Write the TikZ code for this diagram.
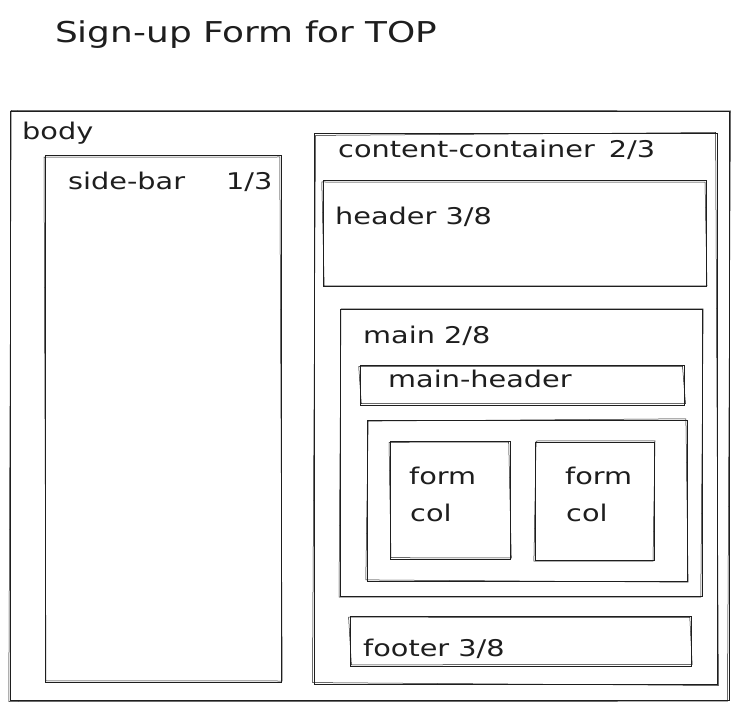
\documentclass[tikz,border=0pt]{standalone}
\usepackage{fontspec}
\newfontfamily\hand{DejaVu Sans}[FakeStretch=1.25]
\definecolor{ink}{HTML}{1E1E1E}
\begin{document}
\begin{tikzpicture}[x=1pt,y=-1pt,
  box/.style={draw=ink, line width=1pt, rectangle, inner sep=0pt, outer sep=0pt},
  trace/.style={draw=ink, line width=0.5pt},
  lbl/.style={anchor=base west, inner sep=0pt, text=ink, font=\hand\fontsize{23}{25}\selectfont},
  ttl/.style={anchor=base west, inner sep=0pt, text=ink, font=\hand\fontsize{28.7}{32}\selectfont}]
\useasboundingbox[fill=white] (0,0) rectangle (739,711);

% page title
\node[ttl] (title) at (55,43) {Sign-up Form for TOP};

% layout boxes
\node[box, minimum width=719pt, minimum height=588pt] (body)    at (369.5,406) {};
\node[box, minimum width=236pt, minimum height=526pt] (sidebar) at (163,419) {};
\node[box, minimum width=403pt, minimum height=550pt] (content) at (515.5,409) {};
\node[box, minimum width=383pt, minimum height=106pt] (header)  at (514.5,234) {};
\node[box, minimum width=362pt, minimum height=286pt] (main)    at (521,453) {};
\node[box, minimum width=324pt, minimum height=40pt]  (mainhd)  at (522,385) {};
\node[box, minimum width=320pt, minimum height=161pt] (formrow) at (527,500.5) {};
\node[box, minimum width=120pt, minimum height=118pt] (colA)    at (450,500) {};
\node[box, minimum width=119pt, minimum height=118pt] (colB)    at (594.5,501) {};
\node[box, minimum width=341pt, minimum height=50pt]  (footer)  at (520.5,641) {};

% second, slightly offset pen strokes for a hand-drawn look
\foreach \n/\a/\b in {body/1.2/-1.5, sidebar/-1/1.2, content/1.5/1.4, header/-1.2/1,
                      main/1/-1.2, mainhd/-1.3/1.5, formrow/1.2/1.1, colA/-1/1.3,
                      colB/1.1/-1, footer/-1.4/1.2}{
  \draw[trace] ([shift={(\a,\b)}]\n.north west) -- ([shift={(-\b,-\a)}]\n.north east)
               -- ([shift={(\b,\a)}]\n.south east) -- ([shift={(-\a,-\b)}]\n.south west) -- cycle;
}

% labels
\node[lbl] (tbody)    at (22,140)  {body};
\node[lbl] (tside)    at (68,190)  {side-bar};
\node[lbl] (tsidefr)  at (226,190) {1/3};
\node[lbl] (tcontent) at (338,158) {content-container\hspace{14pt}2/3};
\node[lbl] (theader)  at (335,225) {header 3/8};
\node[lbl] (tmain)    at (363,344) {main 2/8};
\node[lbl] (tmainhd)  at (388,387) {main-header};
\node[lbl] (tcolA1)   at (409,484) {form};
\node[lbl] (tcolA2)   at (410,521) {col};
\node[lbl] (tcolB1)   at (565,484) {form};
\node[lbl] (tcolB2)   at (566,521) {col};
\node[lbl] (tfooter)  at (363,656) {footer 3/8};
\end{tikzpicture}
\end{document}
